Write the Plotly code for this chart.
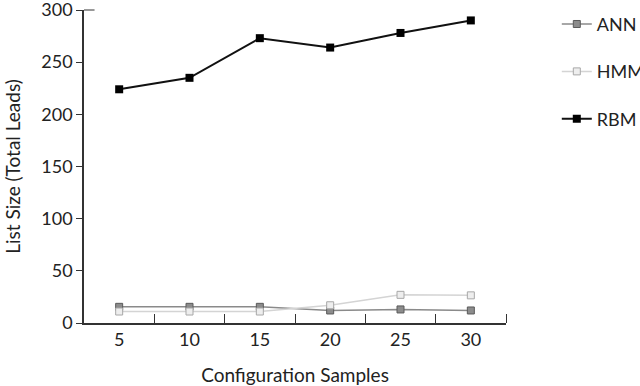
import plotly.graph_objects as go

# configuration samples
samples = [5, 10, 15, 20, 25, 30]

# list size (total leads) per method
ann = [15.5, 15.5, 15.5, 12, 13, 12]
hmm = [11, 11, 11, 17, 27, 26.5]
rbm = [224, 235, 273, 264, 278, 290]

y_ticks = [0, 50, 100, 150, 200, 250, 300]
x_ticks = [5, 10, 15, 20, 25, 30]

FONT = "Lato"
AXIS = "#333333"

fig = go.Figure()
fig.add_trace(go.Scatter(
    x=samples, y=ann, name="ANN", mode="lines+markers", legendgroup="a",
    line=dict(color="#8a8a8a", width=1.5),
    marker=dict(symbol="square", size=7, color="#8c8c8c", line=dict(color="#5a5a5a", width=1)),
))
fig.add_trace(go.Scatter(
    x=samples, y=hmm, name="HMM", mode="lines+markers", legendgroup="b",
    line=dict(color="#d4d4d4", width=1.5),
    marker=dict(symbol="square", size=7, color="#eeeeee", line=dict(color="#a8a8a8", width=1)),
))
fig.add_trace(go.Scatter(
    x=samples, y=rbm, name="RBM", mode="lines+markers", legendgroup="c",
    line=dict(color="#111111", width=2),
    marker=dict(symbol="square", size=8, color="#000000"),
))

# small cap at the top of the y axis
fig.add_shape(type="line", xref="paper", yref="paper", x0=0, x1=0.025, y0=1, y1=1,
              line=dict(color=AXIS, width=1))

fig.update_layout(
    width=640, height=386,
    margin=dict(l=84, r=134, t=10, b=63, autoexpand=False),
    plot_bgcolor="white", paper_bgcolor="white",
    font=dict(family=FONT, size=18, color="#222222"),
    showlegend=True,
    legend=dict(xref="container", yref="container", x=0.87, y=0.985,
                xanchor="left", yanchor="top",
                tracegroupgap=21, font=dict(size=18), bgcolor="rgba(0,0,0,0)"),
    xaxis=dict(
        range=[2.5, 32.5], tickvals=x_ticks, ticks="", showgrid=False, automargin=False,
        showline=True, linecolor=AXIS, linewidth=1.5, zeroline=False,
        title=dict(text="Configuration Samples", font=dict(size=19), standoff=20),
        minor=dict(tickvals=[7.5, 12.5, 17.5, 22.5, 27.5, 32.5], ticks="inside",
                   ticklen=9, tickcolor=AXIS, tickwidth=1),
    ),
    yaxis=dict(
        range=[0, 300], tickvals=y_ticks, ticks="outside", ticklen=6, automargin=False,
        ticklabeloverflow="allow",
        tickcolor=AXIS, showgrid=False, showline=True, linecolor=AXIS,
        linewidth=1.5, zeroline=False,
        title=dict(text="List Size (Total Leads)", font=dict(size=19), standoff=16),
    ),
)

# drop the page's default body margin so the figure sits at the window corner
fig.write_html("out.html", config={"displayModeBar": False},
               post_script="document.body.style.margin='0';")
